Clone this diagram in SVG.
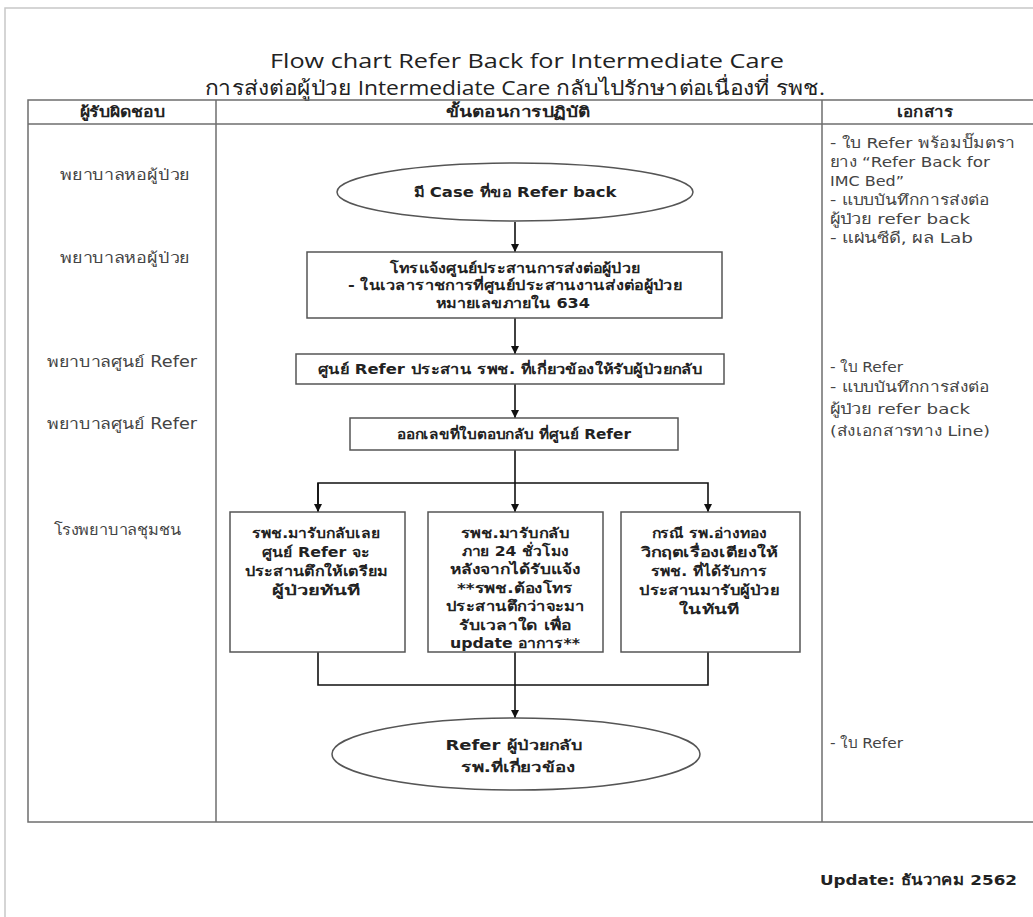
<svg xmlns="http://www.w3.org/2000/svg" width="1033" height="917" viewBox="0 0 1033 917">
<style>
.pg{fill:none;stroke:#c8c8c8;stroke-width:1.5}
.tb{fill:none;stroke:#6e6e6e;stroke-width:1.5}
.bx{fill:#fff;stroke:#555;stroke-width:1.5}
.cn{fill:none;stroke:#111;stroke-width:1.6}
text{font-family:"DejaVu Sans","Noto Sans",sans-serif}
.title{font-family:"Open Sans","Noto Sans",sans-serif;font-size:20.5px;fill:#222;text-anchor:middle}
.hd{font-size:14.5px;font-weight:bold;fill:#222;text-anchor:middle}
.lf{font-size:15px;fill:#444;text-anchor:middle}
.rt{font-size:14.5px;fill:#444}
.nb{font-size:14px;font-weight:bold;fill:#222;text-anchor:middle}
.ft{font-size:14.5px;font-weight:bold;fill:#222;text-anchor:end}
</style>
<defs>
<marker id="ah" markerWidth="10" markerHeight="10" refX="9" refY="5" orient="auto" markerUnits="userSpaceOnUse">
<path d="M1,1 L9,5 L1,9 Z" fill="#111"/>
</marker>
</defs>
<rect width="1033" height="917" fill="#fff"/>
<path class="pg" d="M5,917 L5,8 L1033,8"/>
<g id="title">
<text class="title" x="527" y="68" textLength="514" lengthAdjust="spacingAndGlyphs">Flow chart Refer Back for Intermediate Care</text>
<text class="title" x="515" y="95" textLength="620" lengthAdjust="spacingAndGlyphs">การส่งต่อผู้ป่วย Intermediate Care กลับไปรักษาต่อเนื่องที่ รพช.</text>
</g>
<g id="table">
<rect class="tb" x="28" y="100" width="1010" height="722"/>
<line class="tb" x1="28" y1="124" x2="1033" y2="124"/>
<line class="tb" x1="216" y1="100" x2="216" y2="822"/>
<line class="tb" x1="822" y1="100" x2="822" y2="822"/>
<text class="hd" x="122" y="117" textLength="85" lengthAdjust="spacingAndGlyphs">ผู้รับผิดชอบ</text>
<text class="hd" x="518" y="117" textLength="144" lengthAdjust="spacingAndGlyphs">ขั้นตอนการปฏิบัติ</text>
<text class="hd" x="925" y="117" textLength="56" lengthAdjust="spacingAndGlyphs">เอกสาร</text>
</g>
<g id="responsible">
<text class="lf" x="125" y="180" textLength="130" lengthAdjust="spacingAndGlyphs">พยาบาลหอผู้ป่วย</text>
<text class="lf" x="125" y="263" textLength="130" lengthAdjust="spacingAndGlyphs">พยาบาลหอผู้ป่วย</text>
<text class="lf" x="122" y="367" textLength="150" lengthAdjust="spacingAndGlyphs">พยาบาลศูนย์ Refer</text>
<text class="lf" x="122" y="429" textLength="150" lengthAdjust="spacingAndGlyphs">พยาบาลศูนย์ Refer</text>
<text class="lf" x="117" y="535" textLength="127" lengthAdjust="spacingAndGlyphs">โรงพยาบาลชุมชน</text>
</g>
<g id="documents">
<text class="rt" x="830" y="148" textLength="185" lengthAdjust="spacingAndGlyphs">- ใบ Refer พร้อมปั๊มตรา</text>
<text class="rt" x="830" y="167" textLength="160" lengthAdjust="spacingAndGlyphs">ยาง “Refer Back for</text>
<text class="rt" x="830" y="186" textLength="74" lengthAdjust="spacingAndGlyphs">IMC Bed”</text>
<text class="rt" x="830" y="205" textLength="160" lengthAdjust="spacingAndGlyphs">- แบบบันทึกการส่งต่อ</text>
<text class="rt" x="830" y="224" textLength="140" lengthAdjust="spacingAndGlyphs">ผู้ป่วย refer back</text>
<text class="rt" x="830" y="243" textLength="143" lengthAdjust="spacingAndGlyphs">- แผ่นซีดี, ผล Lab</text>
<text class="rt" x="830" y="372" textLength="73" lengthAdjust="spacingAndGlyphs">- ใบ Refer</text>
<text class="rt" x="830" y="392" textLength="160" lengthAdjust="spacingAndGlyphs">- แบบบันทึกการส่งต่อ</text>
<text class="rt" x="830" y="414" textLength="140" lengthAdjust="spacingAndGlyphs">ผู้ป่วย refer back</text>
<text class="rt" x="830" y="436" textLength="160" lengthAdjust="spacingAndGlyphs">(ส่งเอกสารทาง Line)</text>
<text class="rt" x="830" y="748" textLength="73" lengthAdjust="spacingAndGlyphs">- ใบ Refer</text>
</g>
<g id="connectors">
<line class="cn" x1="515" y1="222" x2="515" y2="252" marker-end="url(#ah)"/>
<line class="cn" x1="515" y1="318" x2="515" y2="354" marker-end="url(#ah)"/>
<line class="cn" x1="515" y1="384" x2="515" y2="418" marker-end="url(#ah)"/>
<line class="cn" x1="515" y1="450" x2="515" y2="512" marker-end="url(#ah)"/>
<path class="cn" d="M318,512 L318,483 L708,483 L708,512" marker-end="url(#ah)"/>
<line class="cn" x1="318" y1="483" x2="318" y2="512" marker-end="url(#ah)"/>
<path class="cn" d="M318,652 L318,685 L708,685 L708,652"/>
<line class="cn" x1="515" y1="652" x2="515" y2="718" marker-end="url(#ah)"/>
</g>
<g id="n1">
<ellipse class="bx" cx="515" cy="192" rx="178" ry="29"/>
<text class="nb" x="515" y="197" textLength="203" lengthAdjust="spacingAndGlyphs">มี Case ที่ขอ Refer back</text>
</g>
<g id="n2">
<rect class="bx" x="307" y="252" width="415" height="66"/>
<text class="nb" x="515" y="273" textLength="250" lengthAdjust="spacingAndGlyphs">โทรแจ้งศูนย์ประสานการส่งต่อผู้ป่วย</text>
<text class="nb" x="515" y="290" textLength="334" lengthAdjust="spacingAndGlyphs">-  ในเวลาราชการที่ศูนย์ประสานงานส่งต่อผู้ป่วย</text>
<text class="nb" x="513" y="308" textLength="154" lengthAdjust="spacingAndGlyphs">หมายเลขภายใน  634</text>
</g>
<g id="n3">
<rect class="bx" x="296" y="354" width="428" height="30"/>
<text class="nb" x="510" y="374" textLength="385" lengthAdjust="spacingAndGlyphs">ศูนย์ Refer ประสาน รพช. ที่เกี่ยวข้องให้รับผู้ป่วยกลับ</text>
</g>
<g id="n4">
<rect class="bx" x="350" y="418" width="328" height="32"/>
<text class="nb" x="514" y="439" textLength="234" lengthAdjust="spacingAndGlyphs">ออกเลขที่ใบตอบกลับ ที่ศูนย์ Refer</text>
</g>
<g id="n5">
<rect class="bx" x="230" y="512" width="175" height="140"/>
<text class="nb" x="316" y="538" textLength="128" lengthAdjust="spacingAndGlyphs">รพช.มารับกลับเลย</text>
<text class="nb" x="316" y="557" textLength="108" lengthAdjust="spacingAndGlyphs">ศูนย์ Refer จะ</text>
<text class="nb" x="316" y="576" textLength="143" lengthAdjust="spacingAndGlyphs">ประสานตึกให้เตรียม</text>
<text class="nb" x="316" y="595" textLength="88" lengthAdjust="spacingAndGlyphs">ผู้ป่วยทันที</text>
</g>
<g id="n6">
<rect class="bx" x="428" y="512" width="175" height="140"/>
<text class="nb" x="515" y="538" textLength="109" lengthAdjust="spacingAndGlyphs">รพช.มารับกลับ</text>
<text class="nb" x="515" y="556" textLength="107" lengthAdjust="spacingAndGlyphs">ภาย 24 ชั่วโมง</text>
<text class="nb" x="515" y="574" textLength="131" lengthAdjust="spacingAndGlyphs">หลังจากได้รับแจ้ง</text>
<text class="nb" x="515" y="593" textLength="116" lengthAdjust="spacingAndGlyphs">**รพช.ต้องโทร</text>
<text class="nb" x="515" y="611" textLength="139" lengthAdjust="spacingAndGlyphs">ประสานตึกว่าจะมา</text>
<text class="nb" x="515" y="630" textLength="113" lengthAdjust="spacingAndGlyphs">รับเวลาใด เพื่อ</text>
<text class="nb" x="515" y="648" textLength="130" lengthAdjust="spacingAndGlyphs">update อาการ**</text>
</g>
<g id="n7">
<rect class="bx" x="621" y="512" width="179" height="140"/>
<text class="nb" x="709" y="538" textLength="115" lengthAdjust="spacingAndGlyphs">กรณี  รพ.อ่างทอง</text>
<text class="nb" x="709" y="557" textLength="137" lengthAdjust="spacingAndGlyphs">วิกฤตเรื่องเตียงให้</text>
<text class="nb" x="709" y="576" textLength="116" lengthAdjust="spacingAndGlyphs">รพช. ที่ได้รับการ</text>
<text class="nb" x="709" y="595" textLength="140" lengthAdjust="spacingAndGlyphs">ประสานมารับผู้ป่วย</text>
<text class="nb" x="709" y="614" textLength="60" lengthAdjust="spacingAndGlyphs">ในทันที</text>
</g>
<g id="n8">
<ellipse class="bx" cx="516" cy="754" rx="184" ry="36"/>
<text class="nb" x="514" y="750" textLength="137" lengthAdjust="spacingAndGlyphs">Refer ผู้ป่วยกลับ</text>
<text class="nb" x="518" y="772" textLength="114" lengthAdjust="spacingAndGlyphs">รพ.ที่เกี่ยวข้อง</text>
</g>
<g id="footer">
<text class="ft" x="1017" y="885" textLength="197" lengthAdjust="spacingAndGlyphs">Update: ธันวาคม 2562</text>
</g>
</svg>
